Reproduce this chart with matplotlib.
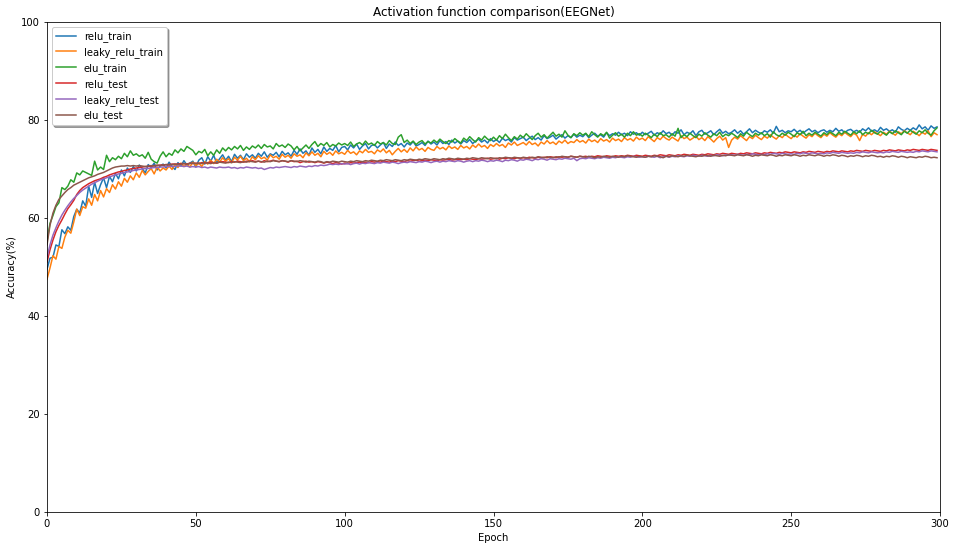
import matplotlib
matplotlib.use("Agg")
import matplotlib.pyplot as plt
import numpy as np

# accuracy per epoch (epochs 0..299)
relu_train = [
    49.5, 51.8, 52.0, 54.5, 54.2, 57.6, 56.8, 58.2, 57.5, 60.3,
    61.8, 61.0, 63.5, 62.4, 66.5, 64.2, 67.3, 65.0, 66.8, 68.2,
    66.2, 68.5, 67.4, 69.1, 68.0, 69.8, 68.6, 70.2, 69.3, 70.5,
    69.6, 70.8, 70.1, 69.2, 70.9, 70.3, 71.2, 69.8, 70.6, 71.0,
    70.2, 71.4, 70.5, 69.9, 71.3, 70.6, 71.7, 70.8, 71.2, 71.6,
    70.4, 71.8, 72.3, 71.0, 72.5, 71.6, 72.8, 71.2, 72.1, 72.9,
    71.8, 72.6, 71.5, 73.0, 72.2, 72.8, 71.9, 73.1, 72.4, 72.9,
    72.2, 73.2, 72.6, 73.5, 72.4, 73.1, 72.8, 73.4, 72.5, 73.6,
    72.9, 73.3, 72.6, 73.8, 73.0, 74.1, 73.2, 73.7, 72.8, 74.3,
    73.4, 74.0, 73.1, 74.5, 73.6, 74.2, 73.8, 74.8, 73.5, 74.4,
    74.6, 73.9, 74.9, 74.3, 75.1, 74.0, 74.7, 75.2, 74.1, 74.8,
    75.0, 74.3, 74.9, 75.4, 74.2, 75.1, 74.6, 75.5, 74.8, 75.2,
    74.5, 75.3, 74.9, 75.6, 74.7, 75.0, 75.4, 74.8, 75.7, 75.1,
    75.5, 74.9, 75.8, 75.2, 75.6, 75.0, 75.9, 75.3, 75.7, 75.1,
    75.8, 75.4, 76.0, 75.2, 75.7, 76.1, 75.5, 75.9, 75.3, 76.2,
    75.6, 76.0, 75.4, 76.3, 75.8, 76.1, 75.5, 76.4, 75.9, 76.2,
    76.5, 75.8, 76.3, 76.7, 76.0, 76.4, 75.9, 76.8, 76.2, 76.5,
    76.9, 76.1, 76.6, 77.0, 76.3, 76.8, 76.4, 77.1, 76.5, 76.9,
    76.6, 77.2, 76.4, 76.9, 77.3, 76.7, 77.0, 76.5, 77.4, 76.8,
    77.2, 76.9, 77.5, 77.0, 77.3, 76.8, 77.6, 77.1, 77.4, 76.9,
    77.5, 77.0, 77.3, 77.7, 76.9, 77.4, 77.1, 77.8, 77.2, 77.5,
    76.9, 77.6, 77.3, 78.0, 77.0, 77.5, 77.2, 77.8, 76.8, 77.6,
    77.9, 77.1, 77.4, 77.8, 77.0, 77.6, 78.1, 77.3, 77.7, 77.2,
    77.5, 78.0, 77.3, 77.8, 77.1, 77.6, 78.2, 77.4, 77.9, 77.5,
    77.2, 77.8, 77.5, 78.0, 77.3, 78.7, 77.6, 77.9, 77.4, 77.8,
    77.6, 78.1, 77.5, 77.9, 77.3, 77.8, 78.2, 77.6, 77.9, 77.4,
    77.8, 78.0, 77.5, 77.9, 77.6, 78.3, 77.7, 78.0, 77.4, 77.9,
    78.1, 77.6, 77.9, 77.5, 78.2, 77.8, 78.4, 77.7, 78.0, 77.6,
    78.5, 77.9, 78.2, 77.7, 78.0, 77.5, 78.6, 78.1, 77.8, 78.3,
    77.9, 78.4, 78.0, 79.0, 78.2, 78.6, 77.9, 78.8, 78.3, 78.6,
]

leaky_relu_train = [
    47.5, 49.8, 52.3, 51.6, 54.2, 53.8, 56.1, 57.5, 56.9, 59.2,
    61.8, 60.5, 62.3, 62.0, 63.9, 62.6, 64.8, 63.5, 65.6, 64.3,
    66.0, 65.2, 66.8, 65.9, 67.4, 66.5, 68.1, 67.3, 68.6, 67.8,
    69.2, 68.3, 69.7, 68.8, 69.5, 70.1, 69.0, 70.4, 69.6, 70.2,
    69.8, 70.6, 69.9, 70.9, 70.3, 71.2, 70.5, 71.0, 70.4, 71.4,
    70.7, 71.2, 70.5, 71.5, 71.0, 71.8, 71.1, 72.0, 71.4, 72.3,
    71.6, 72.1, 71.3, 72.4, 71.8, 72.6, 71.7, 72.2, 71.5, 72.5,
    71.9, 72.7, 72.1, 72.4, 71.8, 72.9, 72.3, 72.6, 72.0, 73.0,
    72.4, 72.8, 72.2, 73.1, 72.6, 72.9, 72.3, 73.3, 72.7, 73.5,
    72.8, 73.2, 72.5, 73.6, 73.0, 73.4, 72.8, 73.7, 73.1, 73.4,
    73.0, 73.8, 73.2, 73.5, 72.9, 73.7, 73.3, 74.0, 73.4, 73.6,
    73.1, 73.9, 73.5, 74.1, 73.3, 73.8, 72.9, 73.6, 74.2, 73.5,
    74.0, 73.4, 74.3, 73.7, 74.5, 73.9, 74.2, 73.6, 74.4, 74.0,
    73.8, 74.6, 74.1, 74.4, 73.9, 74.7, 74.2, 74.5, 74.0, 74.8,
    74.3, 74.6, 74.1, 74.9, 74.4, 75.1, 74.5, 74.8, 74.2, 75.0,
    74.6, 75.2, 74.7, 75.0, 74.4, 75.3, 74.9, 75.5, 74.8, 75.1,
    75.4, 74.9, 75.6, 75.0, 75.3, 74.7, 75.5, 75.1, 75.8, 75.2,
    75.5, 75.0, 75.7, 75.3, 75.9, 75.2, 75.6, 75.4, 76.0, 75.5,
    75.8, 75.3, 76.1, 75.6, 75.9, 75.4, 76.2, 75.7, 76.0, 75.5,
    76.3, 75.8, 76.1, 75.6, 76.4, 75.9, 76.2, 75.7, 76.5, 76.0,
    76.3, 75.8, 76.6, 76.1, 75.6, 76.4, 76.0, 76.7, 76.2, 75.9,
    76.5, 76.1, 75.7, 76.8, 76.2, 76.5, 75.9, 76.3, 76.7, 76.0,
    76.4, 75.8, 76.6, 76.1, 75.5, 76.2, 76.7, 75.9, 76.4, 74.4,
    75.9, 76.5, 76.1, 76.8, 76.3, 75.8, 76.6, 76.2, 76.9, 76.4,
    76.0, 76.7, 76.3, 77.0, 76.5, 76.1, 76.8, 76.4, 77.1, 76.6,
    76.2, 76.9, 76.5, 77.2, 76.7, 76.3, 77.0, 76.6, 77.3, 76.8,
    76.4, 77.1, 76.7, 77.4, 76.9, 76.5, 77.2, 76.8, 77.5, 77.0,
    76.6, 77.3, 76.9, 75.8, 77.1, 76.7, 77.4, 77.0, 77.6, 77.2,
    76.8, 77.5, 77.1, 77.7, 77.3, 76.9, 77.6, 77.2, 77.8, 77.4,
    77.0, 77.7, 77.3, 76.8, 77.5, 77.1, 77.8, 76.6, 77.4, 77.0,
]

elu_train = [
    55.2, 58.9, 60.5, 62.3, 63.1, 66.2, 65.8, 66.5, 67.8, 67.3,
    69.2, 68.8, 69.6, 69.3, 69.0, 68.7, 71.6, 69.8, 70.4, 69.9,
    72.8, 71.5, 72.3, 71.9, 72.6, 72.1, 73.2, 72.5, 73.7, 72.8,
    73.1, 72.6, 72.9, 72.2, 73.4, 72.0, 71.5, 71.2, 72.6, 73.5,
    72.5, 73.2, 72.8, 73.9, 73.3, 74.1, 73.6, 74.6, 74.2, 73.8,
    72.9, 73.6, 73.3, 74.0, 72.7, 73.5, 72.8, 73.9, 73.2, 74.3,
    73.7, 74.4, 73.9, 74.6, 74.1, 74.8, 73.8, 74.5, 74.0, 74.7,
    74.3, 74.9, 74.2, 75.0, 74.5, 74.7, 74.1, 75.2, 74.6, 74.9,
    74.4, 75.1, 74.7, 73.9, 74.6, 73.7, 74.3, 74.9, 74.2, 75.0,
    75.6, 74.6, 75.2, 74.8, 75.4, 74.5, 75.0, 74.7, 75.3, 74.9,
    75.2, 74.8, 75.5, 74.6, 75.1, 75.4, 74.9, 75.7, 75.0, 75.3,
    74.8, 75.6, 75.1, 75.4, 74.9, 75.8, 75.2, 75.0, 76.5, 77.0,
    75.4, 75.9, 75.2, 75.7, 75.0, 75.5, 75.8, 75.1, 75.6, 75.3,
    75.9, 75.4, 76.1, 75.6, 75.2, 75.8, 75.5, 76.2, 75.7, 75.3,
    76.3, 75.8, 76.6, 76.0, 75.5, 76.4, 75.9, 76.7, 76.1, 75.8,
    76.5, 75.9, 76.8, 76.2, 77.1, 76.4, 75.8, 76.6, 76.1, 76.9,
    76.4, 77.2, 76.6, 76.0, 76.8, 77.3, 76.5, 77.0, 76.3, 76.9,
    77.5, 76.7, 77.1, 76.5, 77.8, 76.9, 76.4, 77.2, 76.8, 77.4,
    76.9, 77.3, 76.6, 77.6, 77.0, 76.5, 77.2, 76.8, 77.5, 76.3,
    76.9, 77.4, 76.7, 77.1, 76.5, 77.3, 76.8, 77.6, 76.9, 77.2,
    76.7, 77.3, 76.9, 76.4, 77.1, 76.6, 77.4, 76.8, 77.0, 76.5,
    77.2, 76.7, 78.3, 76.4, 77.0, 76.6, 77.3, 76.8, 76.4, 77.1,
    76.7, 77.4, 76.9, 76.5, 77.2, 76.8, 77.5, 76.6, 77.1, 76.8,
    77.3, 76.9, 76.4, 77.2, 76.7, 77.5, 77.0, 76.6, 77.3, 76.9,
    77.4, 76.8, 77.2, 76.5, 77.6, 77.0, 76.7, 77.3, 76.9, 77.5,
    77.1, 76.6, 77.4, 77.0, 77.7, 76.8, 77.3, 76.9, 77.5, 77.1,
    76.7, 77.4, 77.0, 77.6, 77.2, 76.8, 77.5, 77.1, 77.7, 77.3,
    76.9, 77.6, 77.2, 77.8, 77.0, 77.5, 77.2, 77.9, 77.4, 77.1,
    77.7, 77.3, 76.9, 77.6, 77.2, 77.8, 77.4, 77.0, 77.7, 77.3,
    77.9, 77.5, 77.1, 77.8, 77.4, 78.0, 77.3, 76.9, 77.8, 78.4,
]

relu_test = [
    51.0, 53.5, 55.5, 57.2, 58.5, 59.6, 60.8, 61.9, 62.7, 63.6,
    64.8, 65.6, 66.2, 66.6, 67.0, 67.3, 67.6, 67.8, 68.0, 68.3,
    68.5, 68.8, 69.0, 69.2, 69.4, 69.5, 69.7, 69.8, 70.0, 70.1,
    70.2, 70.3, 70.4, 70.5, 70.5, 70.6, 70.7, 70.7, 70.8, 70.8,
    70.9, 70.9, 71.0, 71.0, 71.0, 71.1, 71.1, 71.0, 71.2, 71.1,
    71.2, 71.1, 71.3, 71.2, 71.3, 71.4, 71.3, 71.2, 71.4, 71.5,
    71.4, 71.3, 71.5, 71.4, 71.6, 71.5, 71.4, 71.6, 71.5, 71.7,
    71.5, 71.6, 71.4, 71.7, 71.5, 71.6, 71.8, 71.6, 71.5, 71.7,
    71.6, 71.4, 71.7, 71.5, 71.6, 71.3, 71.5, 71.6, 71.4, 71.5,
    71.3, 71.5, 71.4, 71.2, 71.4, 71.3, 71.1, 71.3, 71.2, 71.0,
    71.2, 71.1, 71.3, 71.2, 71.3, 71.4, 71.3, 71.4, 71.3, 71.5,
    71.4, 71.5, 71.4, 71.6, 71.5, 71.4, 71.6, 71.5, 71.7, 71.6,
    71.5, 71.7, 71.6, 71.7, 71.8, 71.6, 71.7, 71.8, 71.7, 71.9,
    71.8, 71.7, 71.9, 71.8, 71.9, 72.0, 71.8, 71.9, 72.0, 71.9,
    72.0, 71.9, 72.1, 72.0, 71.9, 72.1, 72.0, 72.1, 72.2, 72.0,
    72.1, 72.2, 72.0, 72.2, 72.1, 72.3, 72.2, 72.1, 72.3, 72.2,
    72.3, 72.2, 72.4, 72.3, 72.2, 72.4, 72.3, 72.4, 72.3, 72.5,
    72.4, 72.3, 72.5, 72.4, 72.5, 72.4, 72.6, 72.5, 72.4, 72.6,
    72.5, 72.6, 72.4, 72.6, 72.5, 72.7, 72.6, 72.5, 72.7, 72.6,
    72.5, 72.7, 72.6, 72.7, 72.6, 72.8, 72.7, 72.6, 72.8, 72.7,
    72.6, 72.8, 72.7, 72.6, 72.8, 72.7, 72.9, 72.8, 72.7, 72.9,
    72.8, 72.7, 72.9, 72.8, 73.0, 72.9, 72.8, 73.0, 72.9, 72.8,
    73.0, 72.9, 73.1, 73.0, 72.9, 73.1, 73.0, 73.2, 73.1, 73.0,
    73.2, 73.1, 73.0, 73.2, 73.1, 73.3, 73.2, 73.1, 73.3, 73.2,
    73.1, 73.3, 73.2, 73.4, 73.3, 73.2, 73.4, 73.3, 73.5, 73.4,
    73.3, 73.5, 73.4, 73.3, 73.5, 73.4, 73.6, 73.5, 73.4, 73.6,
    73.5, 73.4, 73.6, 73.5, 73.7, 73.6, 73.5, 73.7, 73.6, 73.5,
    73.7, 73.6, 73.8, 73.7, 73.6, 73.8, 73.7, 73.6, 73.8, 73.7,
    73.6, 73.8, 73.7, 73.9, 73.8, 73.7, 73.9, 73.8, 73.7, 73.9,
    73.8, 74.0, 73.9, 73.8, 74.0, 73.9, 73.8, 74.0, 73.9, 73.8,
]

leaky_relu_test = [
    52.0, 54.5, 56.5, 58.0, 59.4, 60.6, 61.6, 62.5, 63.3, 64.0,
    64.6, 65.2, 65.7, 66.1, 66.5, 66.9, 67.2, 67.5, 67.8, 68.0,
    68.2, 68.4, 68.6, 68.8, 69.0, 69.1, 69.3, 69.4, 69.5, 69.7,
    69.8, 69.9, 70.0, 70.1, 70.1, 70.2, 70.3, 70.3, 70.4, 70.4,
    70.5, 70.5, 70.6, 70.5, 70.6, 70.6, 70.5, 70.6, 70.4, 70.5,
    70.4, 70.5, 70.3, 70.4, 70.2, 70.4, 70.3, 70.2, 70.4, 70.3,
    70.3, 70.4, 70.2, 70.3, 70.1, 70.3, 70.2, 70.4, 70.3, 70.2,
    70.3, 70.1, 70.2, 69.9, 70.1, 70.3, 70.2, 70.4, 70.3, 70.4,
    70.5, 70.4, 70.3, 70.5, 70.4, 70.6, 70.5, 70.4, 70.6, 70.5,
    70.7, 70.6, 70.8, 70.7, 70.8, 71.0, 70.9, 71.0, 70.9, 71.1,
    71.0, 71.1, 70.9, 71.1, 71.2, 71.0, 71.2, 71.1, 71.3, 71.2,
    71.1, 71.3, 71.2, 71.4, 71.3, 71.2, 71.4, 71.3, 71.1, 71.3,
    71.4, 71.3, 71.5, 71.4, 71.3, 71.5, 71.4, 71.6, 71.5, 71.3,
    71.5, 71.6, 71.4, 71.6, 71.5, 71.7, 71.6, 71.5, 71.7, 71.6,
    71.4, 71.6, 71.7, 71.5, 71.7, 71.6, 71.8, 71.7, 71.5, 71.7,
    71.6, 71.8, 71.7, 71.5, 71.8, 71.7, 71.9, 71.8, 71.6, 71.9,
    71.8, 72.0, 71.9, 71.7, 72.0, 71.9, 72.1, 72.0, 71.8, 72.1,
    72.0, 71.9, 72.1, 72.0, 72.2, 72.1, 72.0, 72.2, 71.7, 72.1,
    72.2, 72.1, 72.3, 72.2, 72.1, 72.3, 72.2, 72.4, 72.3, 72.2,
    72.4, 72.3, 72.5, 72.4, 72.3, 72.5, 72.4, 72.6, 72.5, 72.4,
    72.5, 72.4, 72.6, 72.5, 72.4, 72.6, 72.3, 72.5, 72.6, 72.4,
    72.6, 72.5, 72.7, 72.6, 72.5, 72.7, 72.6, 72.8, 72.7, 72.6,
    72.8, 72.7, 72.6, 72.8, 72.7, 72.9, 72.8, 72.7, 72.9, 72.8,
    72.9, 72.8, 73.0, 72.9, 72.8, 73.0, 72.9, 73.1, 73.0, 72.9,
    73.0, 72.9, 73.1, 73.0, 73.2, 73.1, 73.0, 73.2, 73.1, 73.0,
    73.1, 73.0, 73.2, 73.1, 73.3, 73.2, 73.1, 73.3, 73.2, 73.1,
    73.2, 73.1, 73.3, 73.2, 73.4, 73.3, 73.2, 73.4, 73.3, 73.2,
    73.3, 73.2, 73.4, 73.3, 73.5, 73.4, 73.3, 73.5, 73.4, 73.3,
    73.4, 73.3, 73.5, 73.4, 73.6, 73.5, 73.4, 73.6, 73.5, 73.4,
    73.5, 73.4, 73.6, 73.5, 73.7, 73.6, 73.5, 73.7, 73.6, 73.5,
]

elu_test = [
    54.5, 58.5, 61.0, 62.6, 63.8, 64.5, 65.2, 65.8, 66.2, 66.7,
    67.0, 67.3, 67.6, 67.9, 68.2, 68.4, 68.6, 68.9, 69.1, 69.3,
    69.6, 69.9, 70.2, 70.4, 70.5, 70.6, 70.6, 70.7, 70.6, 70.7,
    70.6, 70.7, 70.6, 70.5, 70.6, 70.7, 70.6, 70.8, 70.7, 70.8,
    70.9, 70.8, 70.9, 71.0, 70.9, 71.0, 71.1, 71.0, 71.1, 71.2,
    71.1, 71.2, 71.1, 71.3, 71.2, 71.1, 71.3, 71.2, 71.4, 71.3,
    71.2, 71.4, 71.3, 71.5, 71.4, 71.3, 71.5, 71.4, 71.6, 71.5,
    71.4, 71.6, 71.5, 71.4, 71.6, 71.5, 71.7, 71.6, 71.5, 71.7,
    71.6, 71.5, 71.7, 71.6, 71.5, 71.7, 71.6, 71.4, 71.6, 71.5,
    71.4, 71.6, 71.5, 71.3, 71.5, 71.4, 71.6, 71.5, 71.4, 71.6,
    71.5, 71.4, 71.6, 71.5, 71.7, 71.6, 71.5, 71.7, 71.6, 71.8,
    71.7, 71.6, 71.8, 71.7, 71.9, 71.8, 71.7, 71.9, 71.8, 71.7,
    71.9, 71.8, 72.0, 71.9, 71.8, 72.0, 71.9, 72.1, 72.0, 71.9,
    72.1, 72.0, 71.9, 72.1, 72.0, 72.2, 72.1, 72.0, 72.2, 72.1,
    72.0, 72.2, 72.1, 72.3, 72.2, 72.1, 72.3, 72.2, 72.1, 72.3,
    72.2, 72.1, 72.3, 72.2, 72.4, 72.3, 72.2, 72.4, 72.3, 72.2,
    72.4, 72.3, 72.2, 72.4, 72.3, 72.5, 72.4, 72.3, 72.5, 72.4,
    72.3, 72.5, 72.4, 72.6, 72.5, 72.4, 72.6, 72.5, 72.4, 72.6,
    72.5, 72.4, 72.6, 72.5, 72.3, 72.5, 72.4, 72.6, 72.5, 72.4,
    72.6, 72.5, 72.4, 72.6, 72.5, 72.7, 72.6, 72.5, 72.4, 72.6,
    72.5, 72.4, 72.6, 72.5, 72.7, 72.6, 72.5, 72.3, 72.6, 72.5,
    72.7, 72.6, 72.5, 72.7, 72.6, 72.8, 72.7, 72.6, 72.5, 72.7,
    72.6, 72.8, 72.7, 72.6, 72.8, 72.7, 72.6, 72.8, 72.7, 72.9,
    72.8, 72.7, 72.9, 72.8, 72.7, 72.9, 72.8, 72.6, 72.8, 72.7,
    72.9, 72.8, 72.7, 72.9, 72.8, 72.6, 72.8, 72.7, 72.9, 72.8,
    72.7, 72.9, 72.8, 72.6, 72.8, 72.7, 72.9, 72.8, 72.7, 72.9,
    72.8, 72.6, 72.8, 72.7, 72.9, 72.8, 72.6, 72.8, 72.7, 72.5,
    72.7, 72.6, 72.8, 72.7, 72.5, 72.7, 72.6, 72.8, 72.7, 72.5,
    72.6, 72.4, 72.6, 72.5, 72.7, 72.6, 72.4, 72.6, 72.5, 72.3,
    72.5, 72.4, 72.3, 72.5, 72.4, 72.6, 72.5, 72.3, 72.4, 72.3,
]

series = [
    ("relu_train", relu_train),
    ("leaky_relu_train", leaky_relu_train),
    ("elu_train", elu_train),
    ("relu_test", relu_test),
    ("leaky_relu_test", leaky_relu_test),
    ("elu_test", elu_test),
]

fig = plt.figure(figsize=(956 / 72, 550 / 72), dpi=72)
ax = fig.add_axes([47 / 956, 38 / 550, 893 / 956, 490 / 550])

for name, vals in series:
    epochs = np.arange(len(vals))
    ax.plot(epochs, vals, label=name)

ax.set_xlim(0, 300)
ax.set_ylim(0, 100)
ax.set_title("Activation function comparison(EEGNet)")
ax.set_xlabel("Epoch")
ax.set_ylabel("Accuracy(%)")
ax.legend(loc="upper left", shadow=True)

fig.savefig("out.png", dpi=72)
